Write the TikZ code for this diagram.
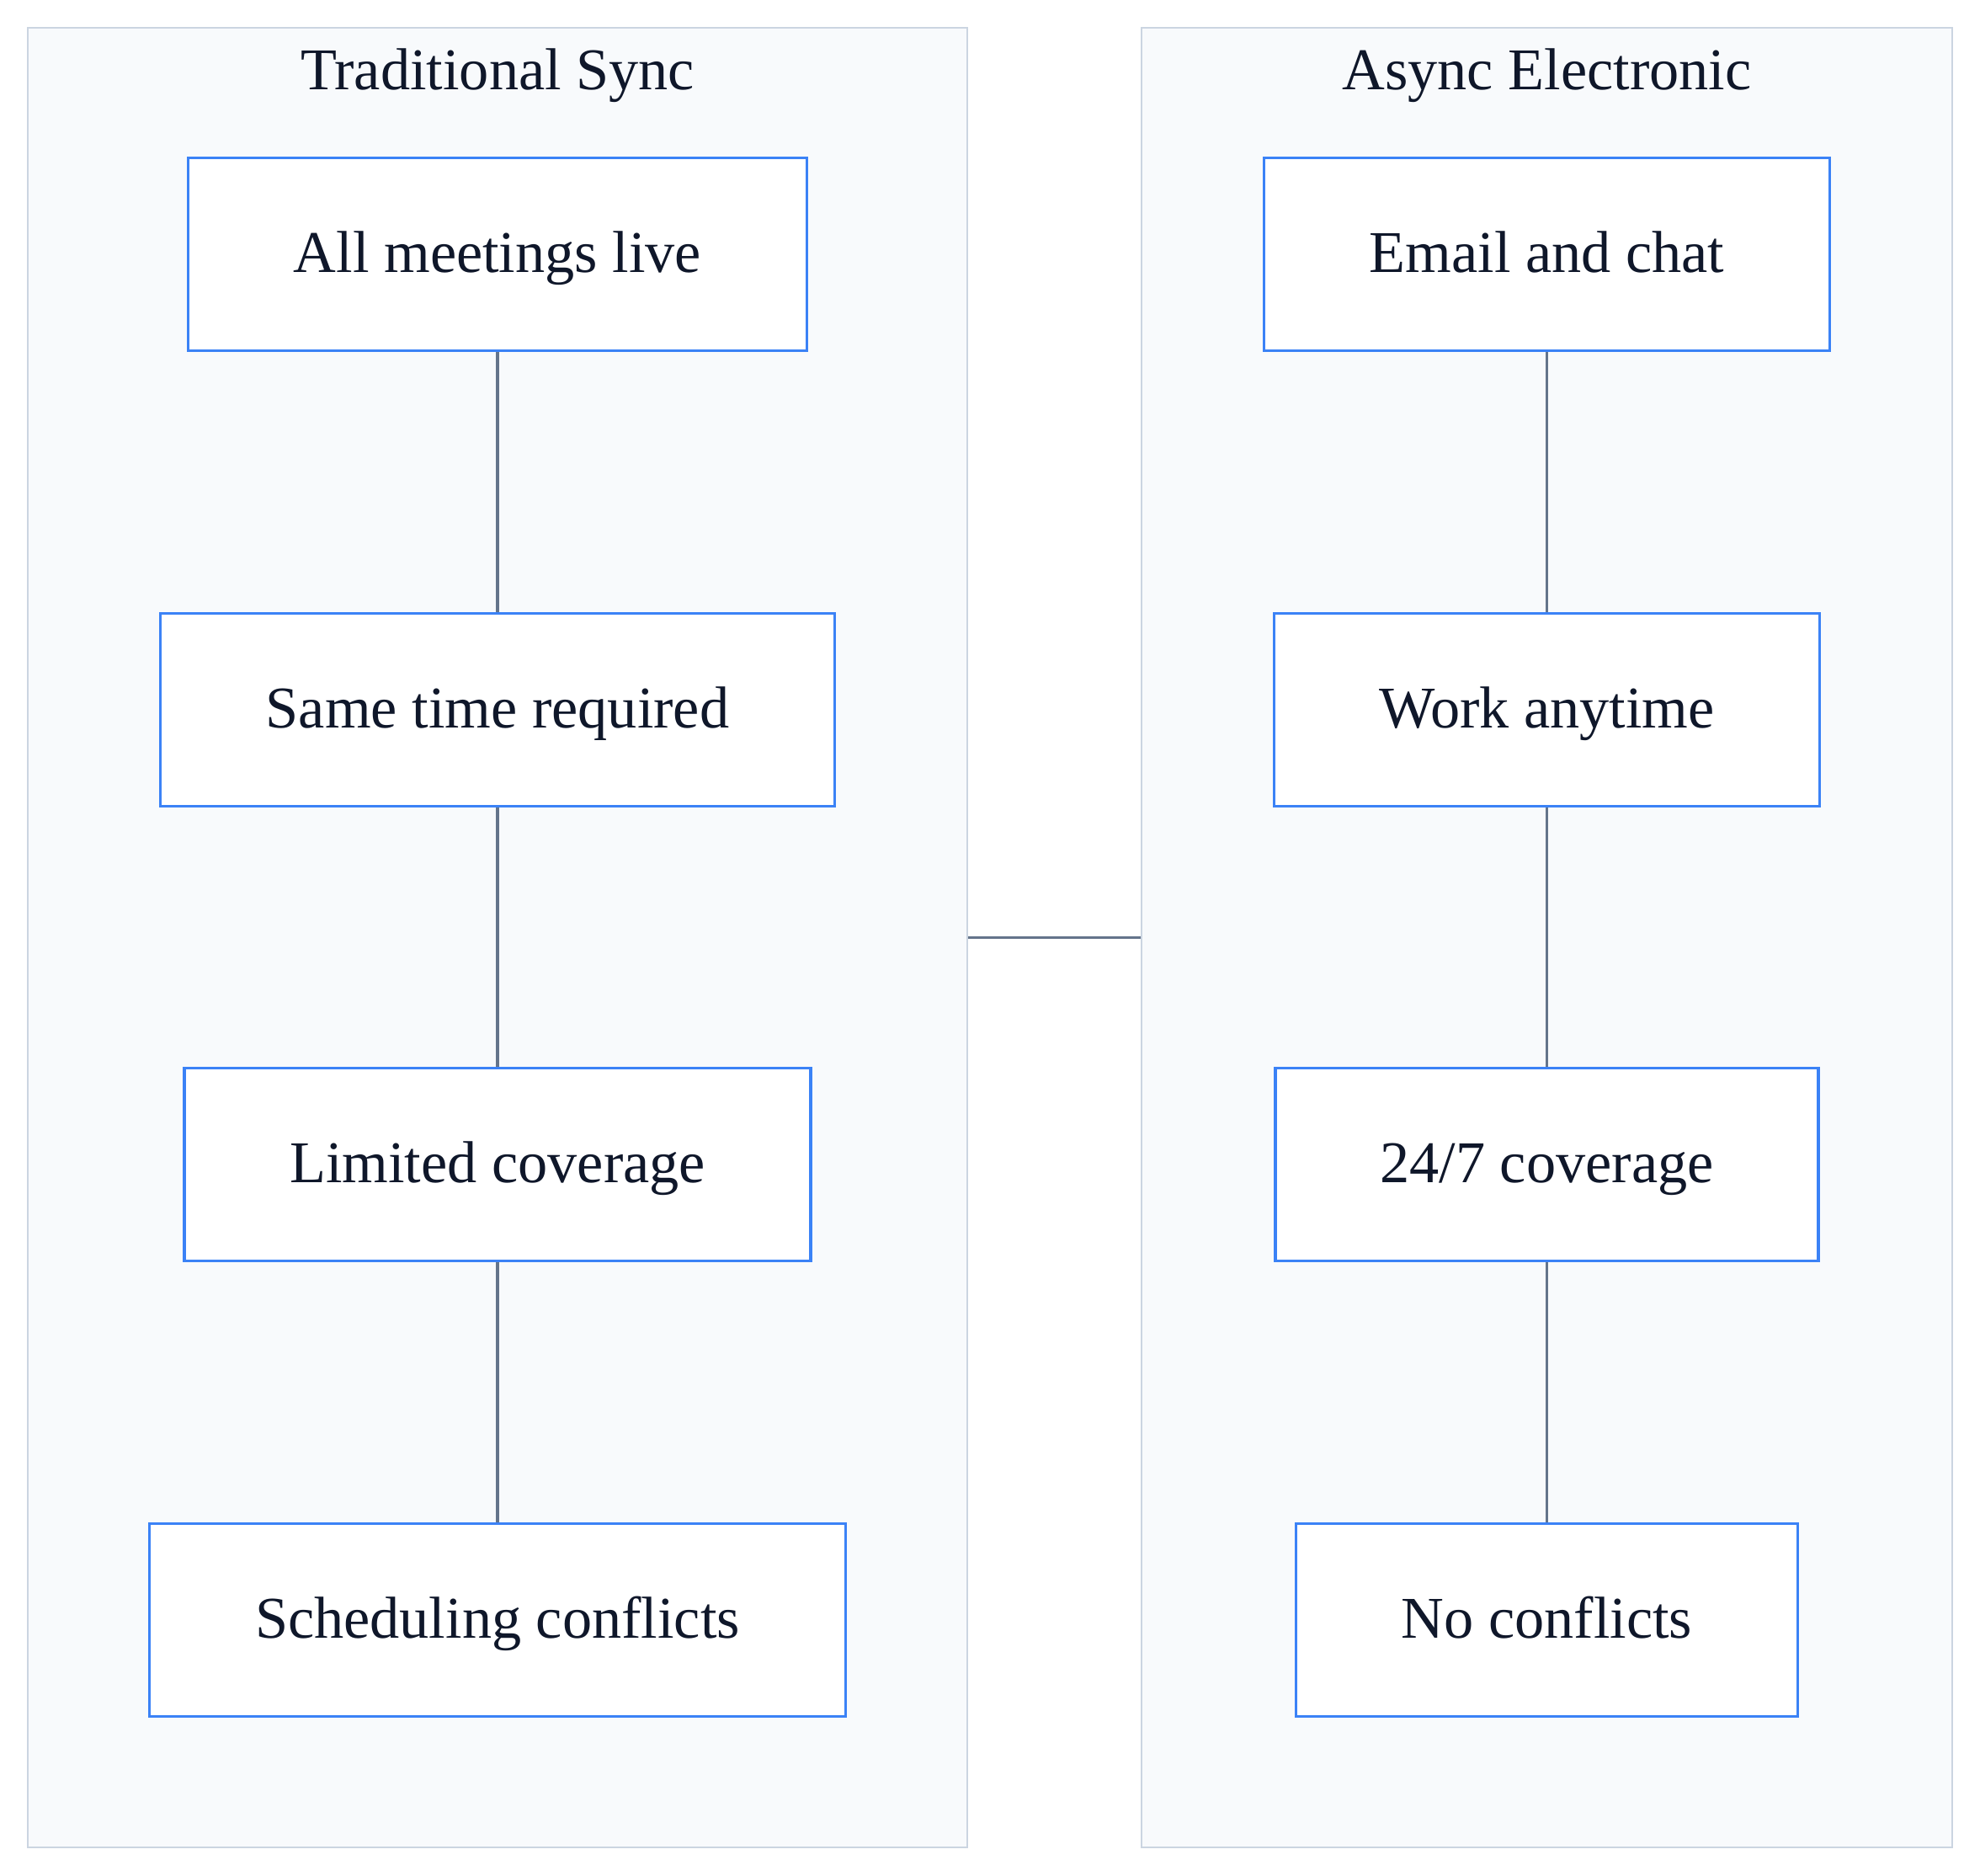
\documentclass[tikz,border=0pt]{standalone}
\usepackage{fontspec}
\setmainfont{Liberation Serif}
\definecolor{boxblue}{HTML}{3B82F6}
\definecolor{edgegray}{HTML}{64748B}
\definecolor{clusterfill}{HTML}{F8FAFC}
\definecolor{clusterline}{HTML}{CBD5E1}
\definecolor{inktext}{HTML}{0F172A}
\tikzset{
  cluster/.style={draw=clusterline, line width=0.7pt, fill=clusterfill, inner sep=0pt},
  clustertitle/.style={text=inktext, font=\fontsize{20}{24}\selectfont},
  stepbox/.style={draw=boxblue, line width=0.9pt, fill=white, text=inktext,
    minimum height=2.29cm, text height=0.58cm, text depth=0.16cm,
    font=\fontsize{20}{24}\selectfont},
  link/.style={draw=edgegray, line width=0.9pt}
}
\begin{document}
\begin{tikzpicture}
    \useasboundingbox (0,0) rectangle (23.52,-22.27);
    % the two groups
    \node[cluster, minimum width=11.16cm, minimum height=21.61cm] (sync) at (5.91,-11.135) {};
    \node[cluster, minimum width=9.63cm, minimum height=21.61cm] (async) at (18.375,-11.135) {};
    \node[clustertitle] (synctitle) at (5.91,-0.90) {Traditional Sync};
    \node[clustertitle] (asynctitle) at (18.375,-0.90) {Async Electronic};
    % left column
    \node[stepbox, minimum width=7.35cm] (live) at (5.91,-3.02) {All meetings live};
    \node[stepbox, minimum width=8.01cm] (sametime) at (5.91,-8.43) {Same time required};
    \node[stepbox, minimum width=7.44cm] (limited) at (5.91,-13.83) {Limited coverage};
    \node[stepbox, minimum width=8.265cm] (scheduling) at (5.91,-19.24) {Scheduling conflicts};
    % right column
    \node[stepbox, minimum width=6.72cm] (email) at (18.375,-3.02) {Email and chat};
    \node[stepbox, minimum width=6.48cm] (anytime) at (18.375,-8.43) {Work anytime};
    \node[stepbox, minimum width=6.45cm] (allday) at (18.375,-13.83) {24/7 coverage};
    \node[stepbox, minimum width=5.955cm] (noconflict) at (18.375,-19.24) {No conflicts};
    \draw[link] (live) -- (sametime);
    \draw[link] (sametime) -- (limited);
    \draw[link] (limited) -- (scheduling);
    \draw[link] (email) -- (anytime);
    \draw[link] (anytime) -- (allday);
    \draw[link] (allday) -- (noconflict);
    \draw[link] (sync.east) -- (async.west);
\end{tikzpicture}
\end{document}
